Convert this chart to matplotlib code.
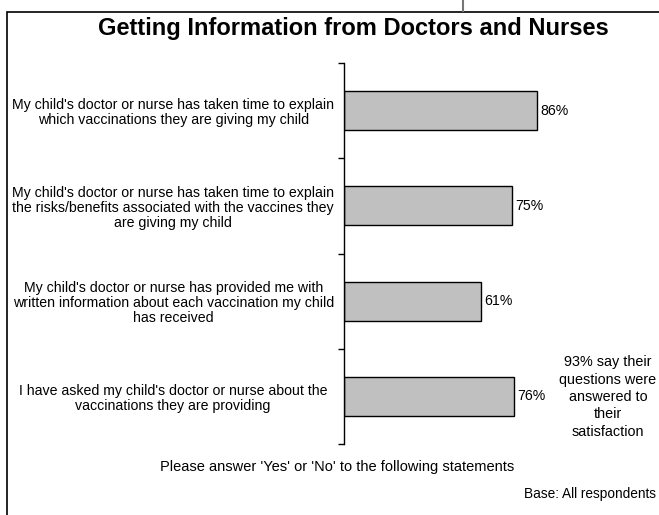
import matplotlib.pyplot as plt
from matplotlib.patches import Rectangle

plt.rcParams['font.family'] = ['Liberation Sans', 'DejaVu Sans']

statements = [
    "My child's doctor or nurse has taken time to explain\nwhich vaccinations they are giving my child",
    "My child's doctor or nurse has taken time to explain\nthe risks/benefits associated with the vaccines they\nare giving my child",
    "My child's doctor or nurse has provided me with\nwritten information about each vaccination my child\nhas received",
    "I have asked my child's doctor or nurse about the\nvaccinations they are providing",
]
percent_yes = [86, 75, 61, 76]
value_labels = ['86%', '75%', '61%', '76%']

fig = plt.figure(figsize=(6.59, 5.15), dpi=100)

# outer frame and the little connector line at the top
fig.patches.append(Rectangle((7 / 659, -0.05), 1.0, 1 - 12 / 515 + 0.05,
                             transform=fig.transFigure, fill=False,
                             edgecolor='black', linewidth=1.2))
fig.add_artist(plt.Line2D([463 / 659, 463 / 659], [1 - 11 / 515, 1.0],
                          transform=fig.transFigure, color='#777777', linewidth=1.5))

ax = fig.add_axes([344 / 659, 1 - 444 / 515, 224 / 659, 381 / 515])

ypos = list(range(len(statements)))
ax.barh(ypos, percent_yes, height=0.41, color='#C0C0C0', edgecolor='black', linewidth=1)
for y, v, lab in zip(ypos, percent_yes, value_labels):
    ax.text(v + 1.5, y, lab, va='center', ha='left', fontsize=10.2)

ax.set_xlim(0, 100)
ax.set_ylim(len(statements) - 0.5, -0.5)
ax.set_yticks(ypos)
ax.set_yticklabels(statements, ha='center', fontsize=10.2, linespacing=1.1)
ax.tick_params(axis='y', which='major', length=0, pad=123)
ax.set_yticks([i - 0.5 for i in range(len(statements) + 1)], minor=True)
ax.tick_params(axis='y', which='minor', length=4, width=1, direction='out')
ax.set_xticks([])
for side in ['top', 'right', 'bottom']:
    ax.spines[side].set_visible(False)
ax.spines['left'].set_linewidth(1)

fig.text(353 / 659, 1 - 29 / 515, 'Getting Information from Doctors and Nurses',
         ha='center', va='center', fontsize=17, fontweight='bold')
fig.text(608 / 659, 1 - 397 / 515,
         '93% say their\nquestions were\nanswered to\ntheir\nsatisfaction',
         ha='center', va='center', fontsize=10.4, linespacing=1.3)
fig.text(337 / 659, 1 - 467 / 515, "Please answer 'Yes' or 'No' to the following statements",
         ha='center', va='center', fontsize=10.5)
fig.text(656 / 659, 1 - 494 / 515, 'Base: All respondents',
         ha='right', va='center', fontsize=9.8)

fig.savefig('out.png', dpi=100)
